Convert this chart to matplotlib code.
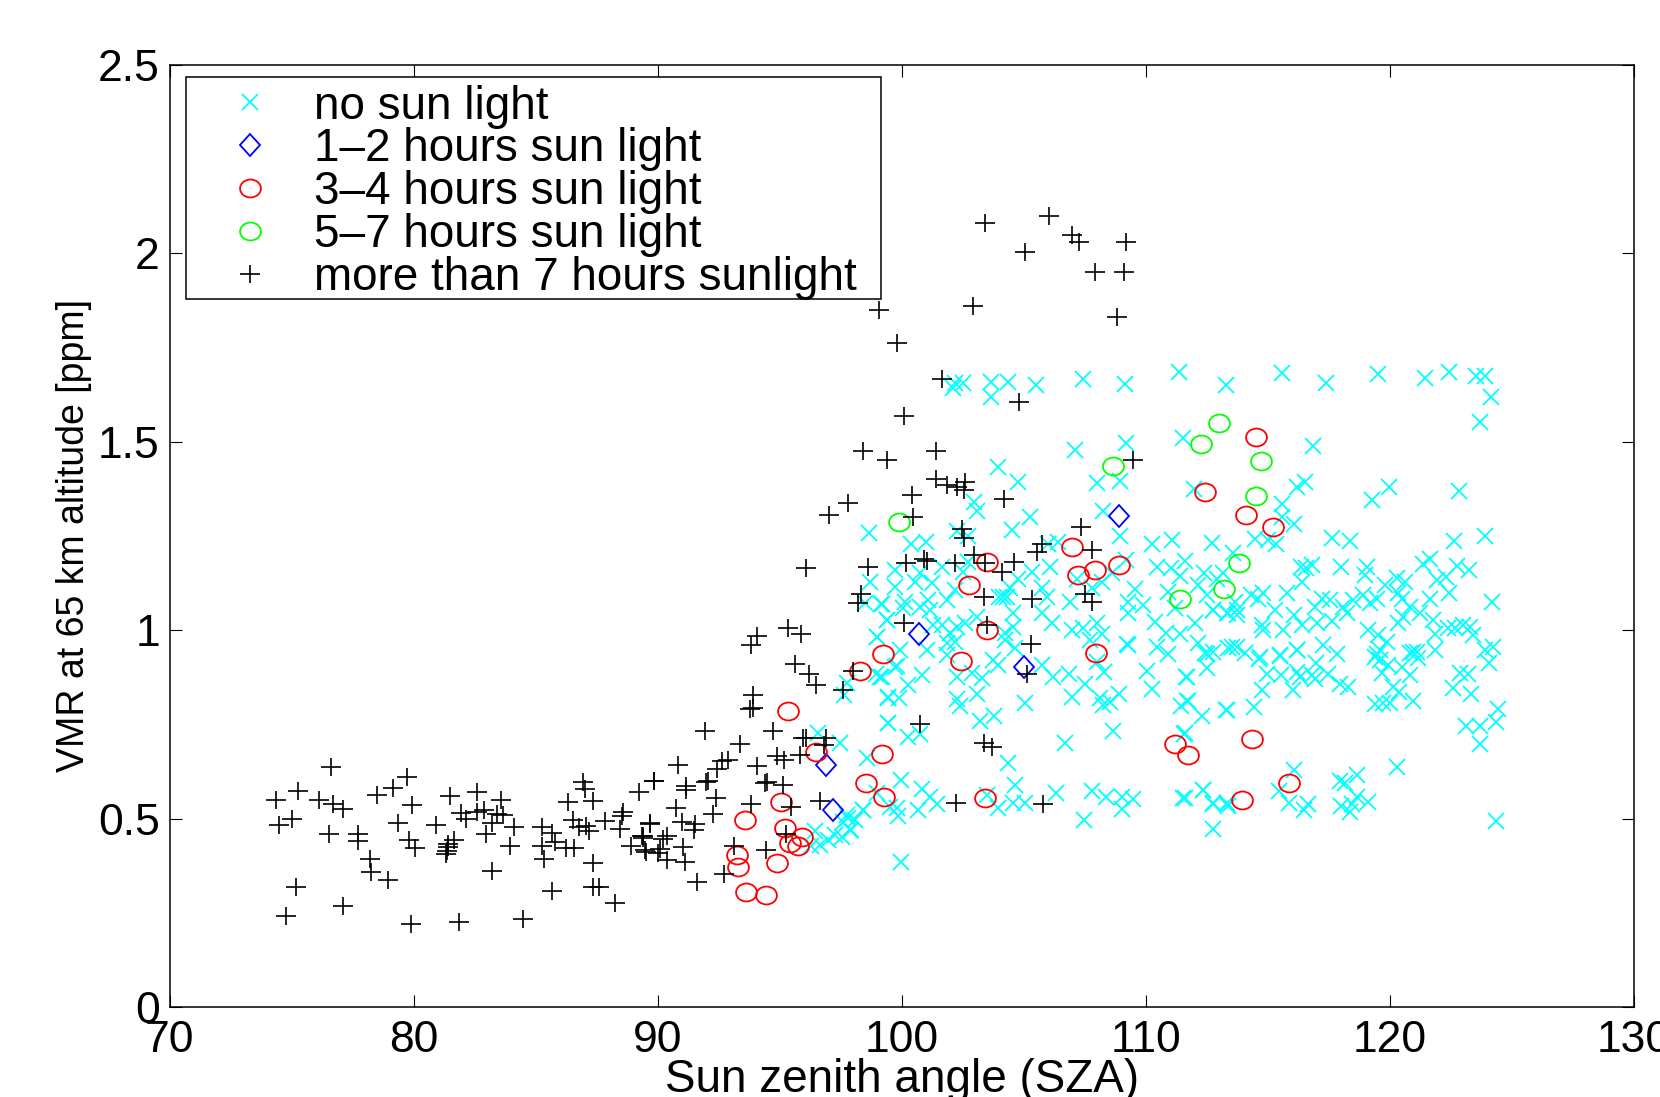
import matplotlib
matplotlib.use("Agg")
import matplotlib.pyplot as plt
from matplotlib.markers import MarkerStyle
from matplotlib.patches import Rectangle
from matplotlib.transforms import Affine2D

plt.rcParams['font.family'] = ['Liberation Sans', 'DejaVu Sans']

# values: (SZA, VMR) split per group
none_sza = [102.10,102.18,102.50,103.64,104.35,103.67,105.50,107.44,109.15,111.37,113.28,109.20,107.08,111.54,
    103.94,104.76,108.01,108.95,111.99,102.97,103.08,105.24,108.26,104.52,98.67,100.39,100.98,102.28,102.73,
    108.95,110.27,111.08,112.71,106.41,106.00,113.58,110.47,111.02,111.60,111.40,112.40,112.15,113.17,112.90,
    112.49,112.76,113.38,113.72,112.01,111.40,110.82,110.37,111.19,110.92,109.90,109.56,109.28,109.28,107.99,
    108.19,107.44,106.96,107.71,109.24,110.44,110.92,112.15,112.49,113.38,106.89,105.73,105.94,105.73,106.14,
    104.57,104.57,104.23,104.64,105.35,106.07,104.78,104.43,104.16,104.00,104.30,101.63,102.52,102.73,101.23,
    100.75,100.54,99.72,99.72,98.70,99.18,98.49,99.38,98.97,99.93,100.13,100.07,101.09,100.75,101.16,101.29,
    101.64,101.84,102.18,101.98,102.25,102.59,103.07,101.84,102.18,101.02,104.23,107.20,108.19,107.78,108.60,
    109.20,
    115.59,117.38,119.50,121.44,122.42,123.51,123.89,124.15,123.70,116.85,116.51,116.18,119.96,119.25,122.83,
    115.58,115.58,116.07,114.49,115.02,115.33,117.64,118.35,122.64,123.88,116.34,116.56,116.79,117.98,119.05,
    118.98,116.38,121.64,121.37,122.73,123.25,121.94,122.28,122.43,121.64,120.28,119.80,120.62,120.34,120.48,
    120.82,121.23,121.78,120.55,120.34,122.39,123.01,123.42,122.67,121.85,123.28,124.18,123.90,124.24,121.85,
    120.96,119.46,118.88,119.18,118.50,118.09,118.23,117.20,117.55,116.93,117.64,117.00,116.07,116.38,115.77,
    115.29,114.81,114.30,114.61,114.81,114.75,115.63,112.77,113.31,113.72,113.65,119.11,119.53,119.87,119.46,
    117.27,117.82,116.18,115.50,114.06,113.52,114.68,
    112.42,112.77,113.72,114.65,115.50,116.21,116.97,114.95,115.54,116.18,116.32,116.79,116.93,117.48,117.95,
    118.27,114.75,116.04,112.52,111.65,111.70,112.31,113.31,114.43,111.60,119.39,119.59,119.59,119.93,119.66,
    120.48,120.82,120.82,121.12,121.16,120.14,120.39,119.39,119.73,120.00,120.96,122.60,122.87,123.21,123.32,
    124.07,124.41,124.35,123.10,123.69,123.69,120.28,116.07,118.64,117.95,118.16,115.47,112.33,111.60,112.77,
    113.31,113.38,115.87,116.66,116.49,118.00,118.36,118.43,118.64,119.09,112.77,124.36,
    99.82,98.94,99.18,100.27,100.82,99.42,99.90,102.25,102.86,103.27,101.84,103.75,103.96,103.07,102.25,102.39,
    103.21,103.79,99.42,100.24,100.75,105.05,105.73,106.21,106.87,107.51,107.98,108.30,106.96,108.12,108.26,
    108.91,108.53,108.64,110.03,110.27,109.26,111.67,111.43,111.74,113.28,111.58,106.70,98.56,104.34,99.97,
    104.64,100.82,101.16,101.43,100.68,99.79,99.86,99.52,98.97,98.43,97.74,98.08,97.88,97.54,99.96,103.48,
    103.93,104.57,105.05,106.31,107.48,107.81,108.37,109.01,109.49,109.04,111.54,112.33,112.76,113.31,
    96.58,97.46,96.44,96.30,96.64,96.99,97.26,97.60,97.80,97.94,98.42,97.74,97.63,98.99,99.38,99.17,99.10,
    99.72,99.44,99.42]
none_vmr = [1.644,1.655,1.655,1.660,1.660,1.620,1.652,1.666,1.653,1.685,1.651,1.498,1.478,1.509,
    1.432,1.392,1.390,1.397,1.376,1.341,1.316,1.300,1.317,1.265,1.257,1.229,1.233,1.264,1.250,
    1.251,1.230,1.239,1.232,1.233,1.230,1.204,1.167,1.165,1.184,1.145,1.151,1.120,1.153,1.135,
    1.093,1.053,1.045,1.053,1.018,0.990,0.993,1.021,1.058,1.102,1.067,1.109,1.076,1.045,1.018,
    0.991,1.005,1.000,0.974,0.963,0.956,0.938,0.965,0.938,0.952,1.076,1.111,1.089,1.045,1.018,
    1.045,1.009,0.974,0.952,1.155,1.168,1.135,1.111,1.087,1.087,1.089,1.167,1.155,1.182,1.124,
    1.151,1.129,1.160,1.115,1.129,1.069,1.071,1.027,0.983,0.947,1.076,1.058,1.080,1.062,1.053,1.014,
    1.014,1.080,1.107,0.992,1.009,1.018,1.036,0.965,0.969,0.947,0.992,1.135,1.129,1.111,1.151,
    1.186,
    1.682,1.657,1.681,1.670,1.685,1.675,1.675,1.620,1.553,1.490,1.392,1.381,1.380,1.345,1.370,
    1.335,1.301,1.281,1.242,1.239,1.230,1.245,1.238,1.236,1.250,1.168,1.164,1.173,1.168,1.168,
    1.146,1.129,1.190,1.176,1.170,1.160,1.133,1.140,1.098,1.084,1.138,1.120,1.129,1.098,1.084,
    1.062,1.045,1.027,1.036,1.018,1.005,1.014,0.987,1.005,0.991,1.009,1.075,0.947,0.956,0.947,
    0.943,1.084,1.093,1.071,1.080,1.062,1.045,1.084,1.080,1.062,1.024,1.018,1.040,1.014,1.098,
    1.053,1.098,1.093,1.084,1.000,1.014,1.000,1.053,1.045,1.040,1.076,1.000,0.987,0.969,0.938,
    0.961,0.938,0.947,0.934,0.940,0.956,0.930,
    0.939,0.943,0.956,0.923,0.932,0.947,0.914,0.883,0.881,0.890,0.877,0.881,0.870,0.883,0.856,
    0.848,0.841,0.840,0.901,0.875,0.813,0.772,0.788,0.795,0.726,0.930,0.947,0.921,0.908,0.886,
    0.903,0.881,0.939,0.943,0.925,0.850,0.837,0.804,0.806,0.806,0.813,0.846,0.886,0.883,0.832,
    0.912,0.790,0.757,0.746,0.746,0.698,0.636,0.629,0.616,0.601,0.595,0.574,0.576,0.554,0.541,
    0.541,0.534,0.541,0.539,0.523,0.533,0.518,0.539,0.558,0.545,0.472,0.494,
    0.905,0.883,0.877,0.855,0.881,0.822,0.819,0.877,0.886,0.872,0.934,0.921,0.908,0.832,0.817,0.799,
    0.759,0.773,0.753,0.716,0.725,0.806,0.908,0.877,0.883,0.857,0.916,0.890,0.824,0.819,0.801,
    0.830,0.810,0.733,0.893,0.843,0.961,0.875,0.799,0.813,0.788,0.725,0.700,0.660,0.647,0.602,
    0.589,0.579,0.558,0.538,0.523,0.527,0.507,0.532,0.567,0.523,0.510,0.496,0.470,0.452,0.386,0.563,
    0.529,0.541,0.542,0.567,0.496,0.574,0.556,0.558,0.551,0.525,0.554,0.576,0.540,0.539,
    0.726,0.700,0.467,0.427,0.430,0.443,0.456,0.492,0.501,0.470,0.523,0.859,0.828,0.983,1.027,1.069,0.877,
    0.903,0.821,0.753]

h12_sza = [108.89,100.72,104.99,96.90,97.18]
h12_vmr = [1.302,0.991,0.903,0.642,0.524]

h34_sza = [112.44,103.48,106.97,102.77,107.21,107.92,108.91,103.48,99.25,102.41,107.94,114.51,114.12,115.21,
    98.29,99.20,98.55,99.29,103.41,111.21,111.74,114.36,113.95,115.87,
    95.36,96.47,95.07,93.57,95.21,95.92,95.42,95.73,93.23,93.30,94.87,93.61,94.45]
h34_vmr = [1.367,1.182,1.220,1.120,1.147,1.159,1.172,1.000,0.938,0.917,0.939,1.513,1.305,1.275,
    0.892,0.671,0.595,0.558,0.555,0.698,0.669,0.712,0.549,0.595,
    0.785,0.676,0.543,0.496,0.474,0.450,0.434,0.428,0.403,0.371,0.381,0.304,0.298]

h57_sza = [113.01,112.27,108.67,99.87,111.40,113.80,113.22,114.73,114.53]
h57_vmr = [1.551,1.493,1.436,1.288,1.084,1.179,1.109,1.450,1.356]

h7_sza = [103.40,106.05,106.96,107.27,109.20,105.05,107.90,109.10,102.90,99.07,108.80,
    99.79,101.66,104.80,100.11,98.40,99.40,101.40,109.47,101.40,101.87,102.28,102.60,102.56,100.42,104.20,97.80,
    100.47,102.48,102.56,107.33,105.75,105.53,107.81,102.96,103.41,104.61,104.09,100.91,101.05,100.16,102.18,
    98.62,98.32,98.22,103.38,105.35,107.51,107.79,100.08,103.49,105.31,97.99,97.58,105.13,100.76,103.37,103.71,
    102.24,105.77,97.00,96.07,
    95.35,95.89,94.05,93.84,95.62,96.21,96.47,93.90,93.91,93.78,91.93,94.72,93.37,95.97,96.06,96.88,96.81,94.90,
    95.17,95.82,94.09,92.89,92.62,92.44,90.84,89.84,91.15,91.18,92.07,92.00,94.46,94.39,95.14,92.37,93.82,95.46,
    96.64,90.77,92.25,91.00,91.52,91.50,89.68,90.39,90.20,89.38,91.02,90.09,89.47,90.39,91.11,91.62,93.11,95.24,
    94.43,92.72,
    76.63,79.72,79.17,78.50,75.27,74.37,76.11,76.69,77.12,79.94,75.03,74.50,76.55,77.74,77.74,79.38,79.83,80.07,
    78.22,78.24,78.94,75.18,77.12,74.76,79.88,81.88,84.50,81.51,82.60,83.57,80.92,81.94,82.15,82.59,82.89,83.43,
    83.68,83.20,82.97,84.12,83.94,81.67,81.43,81.40,81.36,81.33,83.21,85.28,85.67,85.28,85.80,85.36,86.25,86.59,
    86.33,86.94,87.02,87.34,86.55,86.79,87.05,87.20,87.83,88.57,88.54,88.47,89.25,89.84,89.69,89.35,89.39,88.89,
    89.51,87.35,85.66,87.35,87.61,88.25,90.03]
h7_vmr = [2.080,2.100,2.050,2.030,2.030,2.005,1.950,1.950,1.860,1.850,1.830,
    1.763,1.666,1.605,1.568,1.475,1.453,1.475,1.452,1.400,1.386,1.379,1.394,1.372,1.358,1.348,1.338,
    1.301,1.268,1.246,1.274,1.229,1.208,1.212,1.199,1.179,1.182,1.154,1.188,1.184,1.178,1.179,
    1.168,1.096,1.073,1.087,1.084,1.096,1.074,1.018,1.013,0.963,0.892,0.841,0.884,0.752,0.700,0.690,
    0.541,0.539,1.305,1.164,
    1.007,0.989,0.984,0.962,0.909,0.884,0.854,0.828,0.793,0.792,0.732,0.732,0.699,0.713,0.713,0.715,0.695,0.667,
    0.655,0.669,0.640,0.655,0.654,0.631,0.642,0.600,0.586,0.576,0.601,0.598,0.598,0.595,0.588,0.554,0.539,0.530,
    0.546,0.529,0.512,0.492,0.485,0.471,0.487,0.455,0.445,0.454,0.425,0.418,0.417,0.390,0.386,0.332,0.427,0.459,
    0.416,0.353,
    0.636,0.611,0.580,0.563,0.572,0.549,0.549,0.539,0.525,0.536,0.500,0.483,0.459,0.459,0.441,0.487,0.443,0.423,
    0.392,0.359,0.337,0.319,0.269,0.241,0.219,0.225,0.234,0.560,0.571,0.549,0.483,0.514,0.498,0.518,0.523,0.512,
    0.510,0.489,0.458,0.477,0.426,0.443,0.433,0.424,0.415,0.405,0.361,0.479,0.461,0.426,0.439,0.392,0.423,0.423,
    0.545,0.596,0.579,0.548,0.496,0.477,0.480,0.467,0.494,0.517,0.507,0.472,0.570,0.601,0.486,0.454,0.448,0.426,
    0.412,0.381,0.309,0.319,0.318,0.275,0.408]

labels = ['no sun light', '1\u20132 hours sun light', '3\u20134 hours sun light',
          '5\u20137 hours sun light', 'more than 7 hours sunlight']

fig = plt.figure(figsize=(16.6, 10.97), dpi=100)
ax = fig.add_axes([169.5/1660, 1-1007/1097, (1634-169.5)/1660, (1007-65)/1097])

# the original is stretched sideways, so the markers are too
squash = Affine2D().scale(1, 0.86)
circle = MarkerStyle('o', fillstyle='none', transform=squash)
plus = MarkerStyle('+', transform=Affine2D().scale(1, 0.82))
diamond = MarkerStyle('D', fillstyle='none', transform=Affine2D().scale(0.72, 0.78))

ax.plot(none_sza, none_vmr, ls='none', marker='x', color='#00ffff', ms=11, mew=1.3, label=labels[0])
ax.plot(h12_sza, h12_vmr, ls='none', marker=diamond, color='#0000ff', ms=14.5, mew=1.3, label=labels[1])
ax.plot(h34_sza, h34_vmr, ls='none', marker=circle, color='#ff0000', ms=15, mew=1.3, label=labels[2])
ax.plot(h57_sza, h57_vmr, ls='none', marker=circle, color='#00ff00', ms=15, mew=1.3, label=labels[3])
ax.plot(h7_sza, h7_vmr, ls='none', marker=plus, color='black', ms=15, mew=1.2, label=labels[4])

ax.set_xlim(70, 130)
ax.set_ylim(0, 2.5)
ax.set_xticks([70, 80, 90, 100, 110, 120, 130])
ax.set_yticks([0, 0.5, 1, 1.5, 2, 2.5])
ax.set_yticklabels(['0', '0.5', '1', '1.5', '2', '2.5'])
ax.tick_params(direction='in', length=8.5, width=0.8, top=True, right=True, labelsize=32)
ax.tick_params(axis='x', pad=9)
ax.tick_params(axis='y', pad=7)
for s in ax.spines.values():
    s.set_linewidth(1.1)

ax.set_xlabel('Sun zenith angle (SZA)', fontsize=33, labelpad=-2)
ax.set_ylabel('VMR at 65 km altitude [ppm]', fontsize=27, labelpad=4)

# legend frame drawn by hand, the legend's own one has too much room under the last row
ax.add_patch(Rectangle((0.0116, 0.7514), 0.4743, 0.2362, transform=ax.transAxes, fc='white', ec='black',
                       lw=1.1, zorder=4))
ax.legend(loc='upper left', bbox_to_anchor=(0.0087, 0.989), borderaxespad=0, fontsize=33, numpoints=1,
          frameon=False, borderpad=0.2, handlelength=2.56, handletextpad=0.12, labelspacing=-0.023)

fig.savefig('out.png', dpi=100)
